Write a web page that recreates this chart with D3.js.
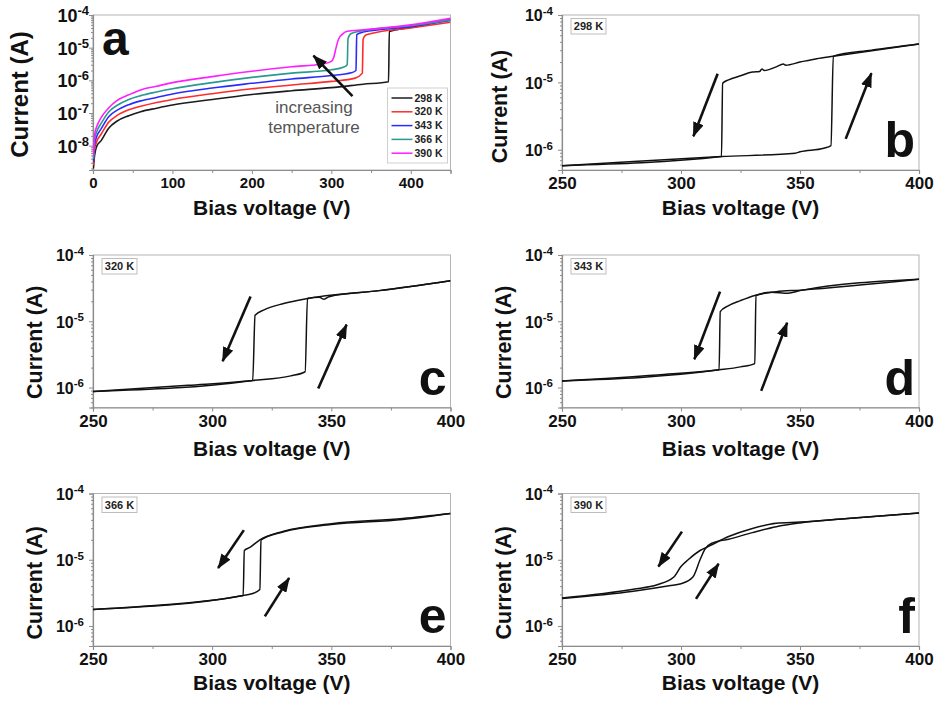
<!DOCTYPE html>
<html>
<head>
<meta charset="utf-8">
<script src="https://cdn.jsdelivr.net/npm/d3@7"></script>
<style>
body { margin: 0; background: #fff; }
svg text { font-family: "Liberation Sans", Arial, Helvetica, sans-serif; }
</style>
</head>
<body>
<div id="fig"></div>
<script>
// ---- data (bias voltage V, current A) ----
var temps = ["298 K", "320 K", "343 K", "366 K", "390 K"];
var tempColors = ["#1c1c1c", "#ff2a2a", "#2a2aff", "#2a9a8e", "#ff1eff"];

// panel a : full sweeps for each temperature
var a298 = [[0.5,2e-9],[2,5e-9],[5,1e-8],[10,1.4e-8],[20,3.5e-8],[30,5.6e-8],[45,8.3e-8],[60,1.1e-7],[80,1.4e-7],[100,1.75e-7],[150,2.6e-7],[200,3.7e-7],[250,4.8e-7],[300,6e-7],[340,7.6e-7],[372,9.1e-7],[373,3.1e-5],[400,4.2e-5],[450,7.4e-5]];
var a320 = [[0.5,2.5e-9],[2,7.9e-9],[5,1.4e-8],[10,2.2e-8],[20,5.3e-8],[30,8.3e-8],[45,1.25e-7],[60,1.6e-7],[80,2.1e-7],[100,2.6e-7],[150,3.9e-7],[200,5.5e-7],[250,7.2e-7],[300,9.3e-7],[330,1.17e-6],[339,1.66e-6],[340,1.8e-5],[343,2.4e-5],[350,2.7e-5],[400,4e-5],[450,6e-5]];
var a343 = [[0.5,3.2e-9],[2,1.1e-8],[5,2e-8],[10,3.2e-8],[20,7.8e-8],[30,1.2e-7],[45,1.8e-7],[60,2.35e-7],[80,3e-7],[100,3.8e-7],[150,5.8e-7],[200,8.1e-7],[250,1.1e-6],[300,1.4e-6],[325,1.7e-6],[331,2e-6],[332,2.5e-5],[340,3e-5],[400,4.4e-5],[450,6.8e-5]];
var a366 = [[0.5,4e-9],[2,1.6e-8],[5,2.8e-8],[10,4.7e-8],[20,1.1e-7],[30,1.7e-7],[45,2.6e-7],[60,3.4e-7],[80,4.4e-7],[100,5.5e-7],[150,8.5e-7],[200,1.23e-6],[250,1.66e-6],[300,2.1e-6],[315,2.5e-6],[320,3e-6],[321,1.9e-5],[325,2.7e-5],[340,3.3e-5],[400,4.7e-5],[450,7.1e-5]];
var a390 = [[0.5,5e-9],[2,2.2e-8],[5,4e-8],[10,7.1e-8],[20,1.45e-7],[30,2.4e-7],[45,3.6e-7],[60,5.1e-7],[80,6.6e-7],[100,8.5e-7],[150,1.3e-6],[200,1.9e-6],[250,2.6e-6],[290,3.2e-6],[300,3.8e-6],[303,5e-6],[306,1e-5],[309,1.8e-5],[314,2.6e-5],[320,3.2e-5],[340,3.5e-5],[400,5e-5],[450,7.9e-5]];

// panels b-f : up sweep and down sweep
var b298up   = [[250,5.8e-7],[280,6.7e-7],[317,7.9e-7],[348,8.9e-7],[350,9.3e-7],[360,1.05e-6],[363,1.15e-6],[364,2.45e-5],[380,3e-5],[400,3.7e-5]];
var b298down = [[250,5.8e-7],[317,7.9e-7],[317.5,9.7e-6],[320,1.09e-5],[325,1.25e-5],[330,1.42e-5],[333,1.45e-5],[334,1.58e-5],[335,1.5e-5],[340,1.7e-5],[343,1.87e-5],[344,1.8e-5],[350,2e-5],[357,2.25e-5],[364,2.45e-5],[400,3.7e-5]];
var c320up   = [[250,8.7e-7],[290,1.08e-6],[317,1.28e-6],[333,1.5e-6],[339,1.73e-6],[340,2.2e-5],[345,2.3e-5],[347,2.15e-5],[349,2.35e-5],[370,2.9e-5],[400,4.1e-5]];
var c320down = [[250,8.7e-7],[317,1.28e-6],[318,1.23e-5],[322,1.5e-5],[330,1.85e-5],[340,2.2e-5],[370,2.9e-5],[400,4.1e-5]];
var d343up   = [[250,1.26e-6],[290,1.55e-6],[316,1.85e-6],[325,2.05e-6],[331,2.3e-6],[331.5,2.45e-5],[338,2.75e-5],[345,2.65e-5],[350,2.9e-5],[400,4.3e-5]];
var d343down = [[250,1.26e-6],[316,1.85e-6],[316.5,1.4e-5],[320,1.72e-5],[325,2.05e-5],[331,2.45e-5],[340,2.8e-5],[350,2.95e-5],[400,4.3e-5]];
var e366up   = [[250,1.78e-6],[280,2.1e-6],[300,2.45e-6],[313,2.9e-6],[317,3.1e-6],[320,3.55e-6],[320.5,2e-5],[330,2.65e-5],[350,3.4e-5],[380,4.05e-5],[400,5e-5]];
var e366down = [[250,1.78e-6],[313,2.9e-6],[313.5,1.38e-5],[316,1.55e-5],[320,2e-5],[330,2.7e-5],[350,3.5e-5],[380,4.2e-5],[400,5e-5]];
var f390up   = [[250,2.6e-6],[280,3.35e-6],[295,4.05e-6],[300,4.35e-6],[305,5.5e-6],[308,1e-5],[310,1.44e-5],[313,1.78e-5],[320,2.04e-5],[330,2.57e-5],[340,3.16e-5],[350,3.6e-5],[370,4.2e-5],[400,5.1e-5]];
var f390down = [[250,2.66e-6],[280,3.6e-6],[290,4.2e-6],[297,5.5e-6],[300,7.9e-6],[303,1e-5],[308,1.38e-5],[312,1.62e-5],[320,2.24e-5],[330,2.97e-5],[340,3.55e-5],[350,3.7e-5],[370,4.2e-5],[400,5.1e-5]];

// direction arrows [from, to] in data units
var arrowsA = [[[326.6,3.3e-7],[277.5,5.7e-6]]];
var arrowsB = [[[315.4,1.34e-5],[305.2,1.58e-6]], [[369.2,1.45e-6],[380,1.37e-5]]];
var arrowsC = [[[316.1,2.37e-5],[304.4,2.5e-6]], [[344.5,9.7e-7],[356.4,8.9e-6]]];
var arrowsD = [[[316.4,2.8e-5],[305.6,2.67e-6]], [[333.7,8.9e-7],[344.6,9.5e-6]]];
var arrowsE = [[[313.3,2.8e-5],[302.5,7.5e-6]], [[322.1,1.4e-6],[332.3,5.3e-6]]];
var arrowsF = [[[300.4,2.66e-5],[290.5,7.9e-6]], [[306.3,2.57e-6],[315.8,8.7e-6]]];

var xTicksA = [0, 100, 200, 300, 400], xMinorA = [50, 150, 250, 350, 450];
var xTicksZ = [250, 300, 350, 400], xMinorZ = [275, 325, 375];
var yTicksA = [1e-4, 1e-5, 1e-6, 1e-7, 1e-8];
var yTicksZ = [1e-4, 1e-5, 1e-6];

// ---- layout ----
var W = 935, H = 702;
var svg = d3.select("#fig").append("svg").attr("width", W).attr("height", H);

var defs = svg.append("defs");
defs.append("marker").attr("id", "head")
    .attr("markerUnits", "userSpaceOnUse")
    .attr("viewBox", "0 0 15 11").attr("refX", 14).attr("refY", 5.5)
    .attr("markerWidth", 15).attr("markerHeight", 11).attr("orient", "auto")
  .append("path").attr("d", "M0,0 L15,5.5 L0,11 Z").attr("fill", "#111");

var panels = [
  {letter:"a", x0:93,  x1:450.5, y0:15,  y1:170, xDom:[0,450],   yDom:[1.8e-9,1e-4],
   xt:xTicksA, xm:xMinorA, yt:yTicksA, lines:[a298,a320,a343,a366,a390], colors:tempColors,
   arrows:arrowsA, tag:null, yLabX:20, yLabDy:2, yLabSize:24, tickSize:18, supSize:13, pad:0,
   xTickSize:15, titleDy:45},
  {letter:"b", x0:562, x1:919, y0:15,  y1:170, xDom:[250,400], yDom:[5e-7,1e-4],
   xt:xTicksZ, xm:xMinorZ, yt:yTicksZ, lines:[b298up,b298down], colors:["#111","#111"],
   arrows:arrowsB, tag:"298 K", yLabX:499, yLabDy:14, yLabSize:21.5, tickSize:16, supSize:11.5, pad:5,
   xTickSize:17, titleDy:45},
  {letter:"c", x0:93,  x1:450.5, y0:255, y1:407.5, xDom:[250,400], yDom:[5e-7,1e-4],
   xt:xTicksZ, xm:xMinorZ, yt:yTicksZ, lines:[c320up,c320down], colors:["#111","#111"],
   arrows:arrowsC, tag:"320 K", yLabX:34, yLabDy:11, yLabSize:21.5, tickSize:16, supSize:11.5, pad:5,
   xTickSize:17, titleDy:48},
  {letter:"d", x0:562, x1:919, y0:255, y1:407.5, xDom:[250,400], yDom:[5e-7,1e-4],
   xt:xTicksZ, xm:xMinorZ, yt:yTicksZ, lines:[d343up,d343down], colors:["#111","#111"],
   arrows:arrowsD, tag:"343 K", yLabX:503, yLabDy:11, yLabSize:21.5, tickSize:16, supSize:11.5, pad:5,
   xTickSize:17, titleDy:48},
  {letter:"e", x0:93,  x1:450.5, y0:493.5, y1:646, xDom:[250,400], yDom:[5e-7,1e-4],
   xt:xTicksZ, xm:xMinorZ, yt:yTicksZ, lines:[e366up,e366down], colors:["#111","#111"],
   arrows:arrowsE, tag:"366 K", yLabX:34, yLabDy:13, yLabSize:21.5, tickSize:16, supSize:11.5, pad:5,
   xTickSize:17, titleDy:44},
  {letter:"f", x0:562, x1:919, y0:493.5, y1:646, xDom:[250,400], yDom:[5e-7,1e-4],
   xt:xTicksZ, xm:xMinorZ, yt:yTicksZ, lines:[f390up,f390down], colors:["#111","#111"],
   arrows:arrowsF, tag:"390 K", yLabX:503, yLabDy:13, yLabSize:21.5, tickSize:16, supSize:11.5, pad:5,
   xTickSize:17, titleDy:44}
];

var axisGrey = "#8c8c8c", frameGrey = "#b4b4b4";

panels.forEach(function(p) {
  var x = d3.scaleLinear().domain(p.xDom).range([p.x0, p.x1]);
  var y = d3.scaleLog().domain(p.yDom).range([p.y1, p.y0]);
  var g = svg.append("g");

  // frame (top/right lighter)
  g.append("rect").attr("x", p.x0).attr("y", p.y0)
    .attr("width", p.x1 - p.x0).attr("height", p.y1 - p.y0)
    .attr("fill", "none").attr("stroke", frameGrey).attr("stroke-width", 1);

  // minor log ticks on y
  var yMinor = [];
  var lo = Math.floor(Math.log10(p.yDom[0])), hi = Math.ceil(Math.log10(p.yDom[1]));
  for (var e = lo; e < hi; e++) for (var k = 2; k <= 9; k++) {
    var v = k * Math.pow(10, e);
    if (v >= p.yDom[0] && v <= p.yDom[1]) yMinor.push(v);
  }
  g.append("g").attr("transform", "translate(" + p.x0 + ",0)")
    .call(d3.axisLeft(y).tickValues(yMinor).tickSize(2).tickFormat(""))
    .call(function(s) { s.select(".domain").remove(); })
    .selectAll("line").attr("stroke", axisGrey);

  var yAx = g.append("g").attr("transform", "translate(" + p.x0 + ",0)")
    .call(d3.axisLeft(y).tickValues(p.yt).tickSize(4).tickPadding(p.pad).tickFormat(""));
  yAx.select(".domain").attr("stroke", axisGrey).attr("stroke-width", 1.2);
  yAx.selectAll("line").attr("stroke", axisGrey);
  yAx.selectAll(".tick text").each(function(d) {
    var t = d3.select(this).attr("fill", "#111").attr("font-weight", "bold")
      .attr("font-size", p.tickSize + "px").attr("text-anchor", "end").attr("dy", "0.36em");
    t.append("tspan").text("10");
    t.append("tspan").attr("dy", "-0.55em").attr("font-size", p.supSize + "px")
      .text(String(Math.round(Math.log10(d))));
  });

  // x axis
  g.append("g").attr("transform", "translate(0," + p.y1 + ")")
    .call(d3.axisBottom(x).tickValues(p.xm).tickSize(3).tickFormat(""))
    .call(function(s) { s.select(".domain").remove(); })
    .selectAll("line").attr("stroke", axisGrey);
  var xAx = g.append("g").attr("transform", "translate(0," + p.y1 + ")")
    .call(d3.axisBottom(x).tickValues(p.xt).tickSize(4).tickPadding(3).tickFormat(d3.format("d")));
  xAx.select(".domain").attr("stroke", axisGrey).attr("stroke-width", 1.2);
  xAx.selectAll("line").attr("stroke", axisGrey);
  xAx.selectAll("text").attr("fill", "#111").attr("font-weight", "bold")
    .attr("font-size", p.xTickSize + "px");

  // axis titles
  g.append("text").attr("x", (p.x0 + p.x1) / 2).attr("y", p.y1 + p.titleDy)
    .attr("text-anchor", "middle").attr("font-weight", "bold").attr("font-size", "21px")
    .attr("fill", "#111").text("Bias voltage (V)");
  g.append("text").attr("transform", "translate(" + p.yLabX + "," + ((p.y0 + p.y1) / 2 + p.yLabDy) + ") rotate(-90)")
    .attr("text-anchor", "middle").attr("dy", "0.35em").attr("font-weight", "bold")
    .attr("font-size", p.yLabSize + "px").attr("fill", "#111").text("Current (A)");

  // curves
  var clip = "clip-" + p.letter;
  defs.append("clipPath").attr("id", clip).append("rect")
    .attr("x", p.x0).attr("y", p.y0).attr("width", p.x1 - p.x0).attr("height", p.y1 - p.y0);
  var line = d3.line().x(function(d) { return x(d[0]); }).y(function(d) { return y(d[1]); })
    .curve(d3.curveMonotoneX);
  g.append("g").attr("clip-path", "url(#" + clip + ")")
    .selectAll("path").data(p.lines).enter().append("path")
    .attr("d", line).attr("fill", "none")
    .attr("stroke", function(d, i) { return p.colors[i]; })
    .attr("stroke-width", p.letter === "a" ? 1.6 : 1.5)
    .attr("stroke-linejoin", "round");

  // arrows
  g.selectAll(".arr").data(p.arrows).enter().append("line")
    .attr("x1", function(d) { return x(d[0][0]); }).attr("y1", function(d) { return y(d[0][1]); })
    .attr("x2", function(d) { return x(d[1][0]); }).attr("y2", function(d) { return y(d[1][1]); })
    .attr("stroke", "#111").attr("stroke-width", 2.6).attr("marker-end", "url(#head)");

  // panel letter
  if (p.letter === "a") {
    g.append("text").attr("x", p.x0 + 9).attr("y", p.y0 + 40)
      .attr("font-weight", "bold").attr("font-size", "48px").attr("fill", "#111").text("a");
  } else {
    g.append("text").attr("x", p.x1 - 4).attr("y", p.y1 - 13).attr("text-anchor", "end")
      .attr("font-weight", "bold").attr("font-size", "50px").attr("fill", "#111").text(p.letter);
  }

  // temperature tag
  if (p.tag) {
    g.append("rect").attr("x", p.x0 + 9).attr("y", p.y0 + 3.5).attr("width", 35).attr("height", 15.5)
      .attr("fill", "#fff").attr("stroke", "#bdbdbd").attr("stroke-width", 1);
    g.append("text").attr("x", p.x0 + 26.5).attr("y", p.y0 + 15.2).attr("text-anchor", "middle")
      .attr("font-weight", "bold").attr("font-size", "11px").attr("fill", "#222").text(p.tag);
  }

  if (p.letter === "a") {
    // legend
    var lg = g.append("g").attr("transform", "translate(" + (p.x1 - 63) + "," + (p.y0 + 73) + ")");
    lg.append("rect").attr("width", 60).attr("height", 75).attr("fill", "#fff")
      .attr("stroke", "#cfcfcf").attr("stroke-width", 1);
    var it = lg.selectAll(".it").data(temps).enter().append("g")
      .attr("transform", function(d, i) { return "translate(0," + (10 + i * 13.8) + ")"; });
    it.append("line").attr("x1", 4).attr("x2", 25).attr("stroke-width", 1.5)
      .attr("stroke", function(d, i) { return tempColors[i]; });
    it.append("text").attr("x", 27).attr("dy", "0.35em").attr("font-weight", "bold")
      .attr("font-size", "10.5px").attr("fill", "#222").text(function(d) { return d; });

    g.append("text").attr("x", 314).attr("y", 113).attr("text-anchor", "middle")
      .attr("font-size", "17px").attr("fill", "#555").text("increasing");
    g.append("text").attr("x", 314).attr("y", 133).attr("text-anchor", "middle")
      .attr("font-size", "17px").attr("fill", "#555").text("temperature");
  }
});
</script>
</body>
</html>
